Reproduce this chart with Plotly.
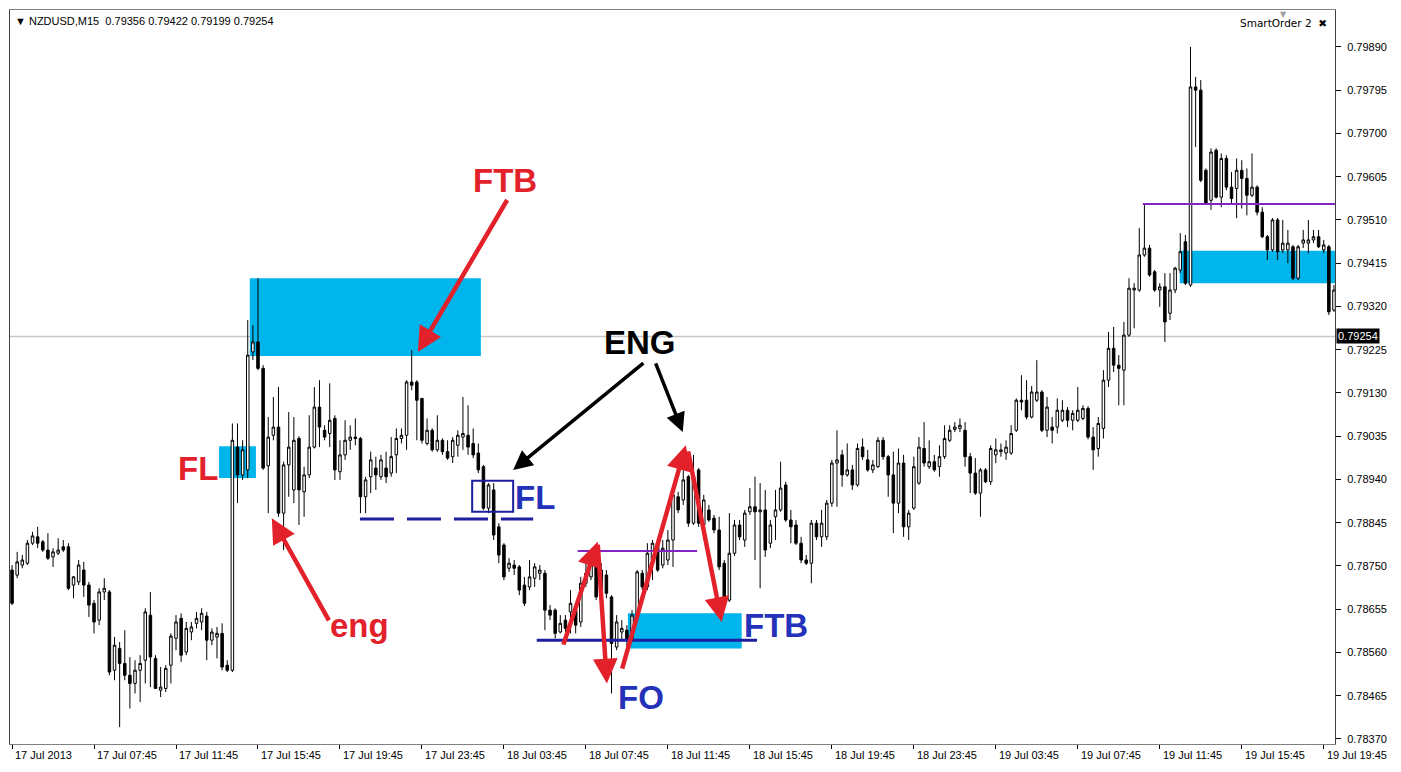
import plotly.graph_objects as go

# ---------------- data (NZDUSD M15) ----------------
bar_open = [
0.78741,0.78730,0.78752,0.78756,0.78800,0.78814,0.78803,0.78785,0.78770,0.78778,
0.78792,0.78792,0.78708,0.78715,0.78741,0.78708,0.78668,0.78631,0.78693,0.78693,
0.78521,0.78569,0.78536,0.78510,0.78492,0.78521,0.78543,0.78642,0.78547,0.78477,
0.78481,0.78532,0.78591,0.78635,0.78561,0.78605,0.78624,0.78627,0.78640,0.78587,
0.78594,0.78602,0.78532,0.78521,0.79011,0.78950,0.78961,0.79220,0.79242,0.79184,
0.78970,0.79037,0.79055,0.78866,0.78972,0.78917,0.79030,0.78913,0.78950,0.79011,
0.79099,0.79048,0.79041,0.79074,0.78957,0.78994,0.79026,0.79033,0.79030,0.78902,
0.78946,0.78965,0.78946,0.78965,0.78954,0.78994,0.79030,0.79037,0.79154,0.79154,
0.79118,0.79019,0.79048,0.79005,0.79026,0.79001,0.78990,0.79015,0.79033,0.79037,
0.79019,0.78998,0.78968,0.78877,0.78917,0.78836,0.78796,0.78745,0.78752,0.78748,
0.78708,0.78704,0.78723,0.78734,0.78734,0.78653,0.78653,0.78605,0.78631,0.78649,
0.78653,0.78627,0.78712,0.78726,0.78756,0.78697,0.78730,0.78682,0.78572,0.78605,
0.78609,0.78587,0.78642,0.78734,0.78704,0.78763,0.78800,0.78752,0.78763,0.78807,
0.78902,0.78895,0.78946,0.78844,0.78961,0.78840,0.78873,0.78855,0.78829,0.78756,
0.78675,0.78778,0.78840,0.78807,0.78869,0.78880,0.78869,0.78873,0.78800,0.78858,
0.78873,0.78928,0.78851,0.78840,0.78800,0.78763,0.78756,0.78844,0.78814,0.78814,
0.78888,0.78976,0.78994,0.78950,0.78961,0.78928,0.79011,0.78983,0.78961,0.78968,
0.79026,0.78990,0.78950,0.78888,0.78976,0.78836,0.78877,0.78932,0.79008,0.78968,
0.78979,0.78968,0.78990,0.79026,0.79050,0.79052,0.79048,0.78990,0.78954,0.78910,
0.78961,0.78935,0.78994,0.79001,0.78998,0.78998,0.79048,0.79114,0.79114,0.79077,
0.79114,0.79132,0.79048,0.79055,0.79055,0.79070,0.79092,0.79070,0.79070,0.79074,
0.79096,0.79033,0.79008,0.79052,0.79158,0.79228,0.79191,0.79180,0.79257,0.79356,
0.79356,0.79433,0.79448,0.79396,0.79356,0.79363,0.79305,0.79356,0.79400,0.79462,
0.79367,0.79802,0.79795,0.79619,0.79553,0.79663,0.79560,0.79645,0.79582,0.79579,
0.79619,0.79601,0.79564,0.79582,0.79527,0.79473,0.79444,0.79510,0.79444,0.79444,
0.79451,0.79382,0.79459,0.79459,0.79466,0.79473,0.79444,0.79451,0.79312]
bar_high = [
0.78752,0.78781,0.78774,0.78807,0.78825,0.78836,0.78807,0.78822,0.78789,0.78811,
0.78807,0.78800,0.78728,0.78763,0.78759,0.78715,0.78675,0.78701,0.78723,0.78697,
0.78594,0.78583,0.78609,0.78550,0.78543,0.78554,0.78657,0.78693,0.78554,0.78528,
0.78532,0.78602,0.78642,0.78646,0.78627,0.78627,0.78649,0.78657,0.78649,0.78613,
0.78616,0.78624,0.78543,0.79063,0.79063,0.79026,0.79290,0.79279,0.79382,0.79191,
0.79077,0.79121,0.79143,0.78979,0.79088,0.79077,0.79035,0.78968,0.79081,0.79143,
0.79158,0.79059,0.79151,0.79081,0.79026,0.79070,0.79059,0.79074,0.79033,0.78946,
0.79001,0.78990,0.78994,0.79001,0.79033,0.79052,0.79052,0.79158,0.79224,0.79158,
0.79118,0.79074,0.79052,0.79081,0.79030,0.79026,0.79033,0.79048,0.79121,0.79103,
0.79052,0.79019,0.78972,0.78932,0.78932,0.78844,0.78800,0.78767,0.78763,0.78752,
0.78726,0.78763,0.78756,0.78752,0.78741,0.78664,0.78657,0.78642,0.78642,0.78697,
0.78664,0.78726,0.78756,0.78774,0.78774,0.78756,0.78741,0.78686,0.78642,0.78631,
0.78620,0.78653,0.78741,0.78741,0.78800,0.78807,0.78811,0.78807,0.78829,0.78924,
0.78913,0.78961,0.78950,0.78994,0.78965,0.78906,0.78884,0.78862,0.78858,0.78763,
0.78866,0.78851,0.78851,0.78873,0.78921,0.78946,0.78932,0.78917,0.78851,0.78917,
0.78979,0.78935,0.78873,0.78851,0.78814,0.78774,0.78851,0.78851,0.78873,0.78895,
0.78983,0.79048,0.79005,0.79019,0.78972,0.79019,0.79030,0.79005,0.78983,0.79033,
0.79033,0.78994,0.79001,0.79008,0.78994,0.78873,0.78990,0.79033,0.79066,0.79026,
0.78994,0.79015,0.79059,0.79059,0.79066,0.79074,0.79066,0.78998,0.78987,0.78965,
0.78965,0.79015,0.79030,0.79019,0.79026,0.79059,0.79118,0.79169,0.79158,0.79145,
0.79202,0.79136,0.79121,0.79077,0.79118,0.79114,0.79099,0.79092,0.79143,0.79103,
0.79101,0.79055,0.79077,0.79180,0.79264,0.79275,0.79213,0.79286,0.79382,0.79371,
0.79492,0.79543,0.79455,0.79400,0.79371,0.79393,0.79393,0.79407,0.79481,0.79477,
0.79890,0.79824,0.79817,0.79623,0.79667,0.79667,0.79656,0.79652,0.79615,0.79645,
0.79641,0.79623,0.79656,0.79586,0.79538,0.79477,0.79514,0.79514,0.79510,0.79488,
0.79455,0.79455,0.79488,0.79510,0.79488,0.79488,0.79466,0.79455,0.79367]
bar_low = [
0.78664,0.78723,0.78745,0.78752,0.78796,0.78789,0.78781,0.78763,0.78748,0.78774,
0.78781,0.78697,0.78679,0.78708,0.78682,0.78638,0.78602,0.78620,0.78675,0.78510,
0.78499,0.78396,0.78499,0.78437,0.78470,0.78451,0.78492,0.78484,0.78481,0.78462,
0.78473,0.78492,0.78565,0.78539,0.78554,0.78587,0.78613,0.78609,0.78543,0.78576,
0.78547,0.78521,0.78517,0.78517,0.78888,0.78939,0.78943,0.79202,0.79180,0.78961,
0.78866,0.79026,0.78858,0.78785,0.78902,0.78888,0.78840,0.78858,0.78943,0.79008,
0.79011,0.79026,0.79011,0.78939,0.78939,0.78983,0.79005,0.79015,0.78866,0.78866,
0.78910,0.78917,0.78939,0.78932,0.78946,0.78954,0.79019,0.79005,0.79136,0.79026,
0.79019,0.79015,0.79001,0.79001,0.78994,0.78983,0.78976,0.78990,0.79005,0.78994,
0.78987,0.78954,0.78873,0.78866,0.78807,0.78756,0.78719,0.78737,0.78730,0.78686,
0.78662,0.78697,0.78704,0.78719,0.78609,0.78631,0.78591,0.78602,0.78605,0.78602,
0.78602,0.78616,0.78704,0.78719,0.78675,0.78690,0.78679,0.78470,0.78565,0.78587,
0.78565,0.78583,0.78638,0.78697,0.78697,0.78719,0.78737,0.78745,0.78752,0.78748,
0.78866,0.78884,0.78836,0.78840,0.78836,0.78807,0.78847,0.78822,0.78741,0.78668,
0.78671,0.78772,0.78807,0.78792,0.78862,0.78763,0.78701,0.78770,0.78789,0.78807,
0.78869,0.78847,0.78800,0.78796,0.78756,0.78752,0.78712,0.78807,0.78792,0.78807,
0.78880,0.78880,0.78924,0.78946,0.78917,0.78924,0.78983,0.78957,0.78954,0.78965,
0.78983,0.78902,0.78822,0.78866,0.78814,0.78807,0.78873,0.78928,0.78968,0.78963,
0.78957,0.78946,0.78985,0.79022,0.79044,0.79044,0.78968,0.78910,0.78906,0.78858,
0.78932,0.78928,0.78976,0.78990,0.78983,0.78994,0.79044,0.79092,0.79072,0.79074,
0.79110,0.79044,0.79033,0.79019,0.79041,0.79066,0.79055,0.79048,0.79066,0.79070,
0.79028,0.78961,0.78990,0.79030,0.79143,0.79176,0.79103,0.79103,0.79253,0.79272,
0.79352,0.79429,0.79385,0.79352,0.79319,0.79242,0.79290,0.79349,0.79393,0.79367,
0.79363,0.79670,0.79593,0.79543,0.79532,0.79557,0.79538,0.79575,0.79543,0.79514,
0.79535,0.79520,0.79560,0.79520,0.79470,0.79422,0.79440,0.79422,0.79437,0.79415,
0.79378,0.79378,0.79448,0.79437,0.79459,0.79448,0.79437,0.79301,0.79308]
bar_close = [
0.78668,0.78759,0.78763,0.78800,0.78816,0.78800,0.78785,0.78767,0.78781,0.78785,
0.78785,0.78701,0.78726,0.78752,0.78708,0.78664,0.78627,0.78693,0.78701,0.78517,
0.78576,0.78536,0.78510,0.78492,0.78521,0.78536,0.78649,0.78550,0.78481,0.78484,
0.78525,0.78596,0.78627,0.78554,0.78613,0.78616,0.78635,0.78646,0.78587,0.78605,
0.78602,0.78528,0.78521,0.79026,0.78950,0.79005,0.79213,0.79242,0.79184,0.78965,
0.79033,0.79055,0.78866,0.78972,0.79011,0.79026,0.78917,0.78950,0.79011,0.79099,
0.79055,0.79033,0.79070,0.78961,0.78994,0.79026,0.79033,0.79030,0.78902,0.78939,
0.78983,0.78950,0.78983,0.78946,0.78990,0.79030,0.79037,0.79154,0.79147,0.79114,
0.79026,0.79048,0.79005,0.79026,0.79001,0.78987,0.79026,0.79037,0.79041,0.79011,
0.78994,0.78961,0.78877,0.78928,0.78818,0.78774,0.78726,0.78756,0.78745,0.78697,
0.78668,0.78726,0.78748,0.78741,0.78653,0.78642,0.78602,0.78624,0.78613,0.78668,
0.78620,0.78712,0.78734,0.78756,0.78682,0.78741,0.78690,0.78580,0.78627,0.78613,
0.78587,0.78642,0.78737,0.78704,0.78778,0.78800,0.78741,0.78789,0.78807,0.78906,
0.78873,0.78939,0.78844,0.78946,0.78844,0.78895,0.78851,0.78829,0.78748,0.78682,
0.78778,0.78840,0.78814,0.78866,0.78880,0.78869,0.78873,0.78785,0.78840,0.78873,
0.78921,0.78851,0.78836,0.78800,0.78763,0.78756,0.78844,0.78814,0.78844,0.78888,
0.78976,0.78983,0.78950,0.78961,0.78928,0.79008,0.78990,0.78961,0.78972,0.79026,
0.78990,0.78950,0.78888,0.78976,0.78836,0.78866,0.78968,0.79011,0.78976,0.78979,
0.78961,0.78990,0.79030,0.79048,0.79055,0.79059,0.78990,0.78954,0.78910,0.78961,
0.78935,0.79008,0.79005,0.79005,0.79011,0.79041,0.79114,0.79110,0.79077,0.79132,
0.79132,0.79048,0.79099,0.79048,0.79092,0.79092,0.79070,0.79085,0.79092,0.79096,
0.79033,0.79005,0.79063,0.79158,0.79228,0.79191,0.79184,0.79257,0.79360,0.79360,
0.79433,0.79448,0.79389,0.79356,0.79363,0.79286,0.79356,0.79404,0.79440,0.79371,
0.79802,0.79795,0.79597,0.79546,0.79659,0.79560,0.79645,0.79582,0.79557,0.79619,
0.79601,0.79564,0.79582,0.79527,0.79473,0.79444,0.79510,0.79440,0.79459,0.79459,
0.79382,0.79451,0.79466,0.79466,0.79473,0.79451,0.79455,0.79308,0.79356]

time_labels = ["17 Jul 2013", "17 Jul 07:45", "17 Jul 11:45", "17 Jul 15:45",
               "17 Jul 19:45", "17 Jul 23:45", "18 Jul 03:45", "18 Jul 07:45",
               "18 Jul 11:45", "18 Jul 15:45", "18 Jul 19:45", "18 Jul 23:45",
               "19 Jul 03:45", "19 Jul 07:45", "19 Jul 11:45", "19 Jul 15:45",
               "19 Jul 19:45"]
price_ticks = [0.78370, 0.78465, 0.78560, 0.78655, 0.78750, 0.78845, 0.78940,
               0.79035, 0.79130, 0.79225, 0.79320, 0.79415, 0.79510, 0.79605,
               0.79700, 0.79795, 0.79890]
bid_price = 0.79254
title_text = "\u25BC NZDUSD,M15  0.79356 0.79422 0.79199 0.79254"

# ---------------- figure ----------------
n = len(bar_close)
xs = list(range(n))
bars_per_label = 16

CYAN = "#00B4EC"
RED = "#E3212B"
BLUE_TXT = "#2431B9"
NAVY = "#1E1EA0"
PURPLE = "#8424C4"
LABEL_FONT = "Liberation Sans"

fig = go.Figure()
fig.add_trace(go.Candlestick(
    x=xs, open=bar_open, high=bar_high, low=bar_low, close=bar_close,
    increasing=dict(line=dict(color="black", width=1), fillcolor="white"),
    decreasing=dict(line=dict(color="black", width=1), fillcolor="black"),
    whiskerwidth=0, showlegend=False, hoverinfo="skip"))

shapes = []
def rect(x0, x1, y0, y1, fill=None, line=None, lw=0, layer="below"):
    d = dict(type="rect", xref="x", yref="y", x0=x0, x1=x1, y0=y0, y1=y1,
             layer=layer, line=dict(width=lw, color=line or "rgba(0,0,0,0)"))
    if fill:
        d["fillcolor"] = fill
    shapes.append(d)

def hline(x0, x1, y, color, width, dash="solid"):
    shapes.append(dict(type="line", xref="x", yref="y", x0=x0, x1=x1, y0=y, y1=y,
                       line=dict(color=color, width=width, dash=dash), layer="above"))

# zones
rect(46.4, 91.5, 0.79211, 0.79382, fill=CYAN)
rect(40.4, 47.6, 0.78943, 0.79013, fill=CYAN)
rect(120.2, 142.4, 0.78569, 0.78646, fill=CYAN)
rect(227.9, 262, 0.79371, 0.79442, fill=CYAN)
# bid line
shapes.append(dict(type="line", xref="paper", yref="y", x0=0, x1=1, y0=bid_price, y1=bid_price,
                   line=dict(color="#C8C8C8", width=1.5), layer="below"))
# levels
hline(67.9, 101.7, 0.78853, NAVY, 3, dash="34px,13px")
hline(102.4, 145.4, 0.78587, NAVY, 3)
hline(110.4, 133.7, 0.78783, PURPLE, 2)
hline(220.7, 262, 0.79545, PURPLE, 2)
rect(89.8, 97.8, 0.78869, 0.78937, line=NAVY, lw=2, layer="above")

annotations = []
def arrow(x0, y0, x1, y1, color, width=4.5):
    annotations.append(dict(x=x1, y=y1, ax=x0, ay=y0, xref="x", yref="y",
                            axref="x", ayref="y", text="", showarrow=True,
                            arrowhead=2, arrowsize=1.1, arrowwidth=width,
                            arrowcolor=color, standoff=0))

def label(x, y, text, color, size=33):
    annotations.append(dict(x=x, y=y, xref="x", yref="y", text="<b>%s</b>" % text,
                            showarrow=False,
                            font=dict(family=LABEL_FONT, size=size, color=color)))

arrow(96.8, 0.79557, 79.2, 0.79220, RED)
arrow(62.0, 0.78627, 50.7, 0.78855, RED)
arrow(107.5, 0.78574, 114.3, 0.78803, RED)
arrow(114.3, 0.78800, 116.1, 0.78492, RED)
arrow(119.0, 0.78521, 131.5, 0.79015, RED)
arrow(131.9, 0.79005, 138.5, 0.78627, RED)
arrow(123.5, 0.79198, 97.8, 0.78961, "black", 3.5)
arrow(125.5, 0.79198, 130.9, 0.79044, "black", 3.5)

label(96.2, 0.79597, "FTB", RED)
label(36.2, 0.78965, "FL", RED)
label(67.9, 0.78620, "eng", RED)
label(122.5, 0.79240, "ENG", "black")
label(102.1, 0.78901, "FL", BLUE_TXT)
label(149.1, 0.78620, "FTB", BLUE_TXT)
label(122.7, 0.78462, "FO", BLUE_TXT)

# time labels under ticks
for k, t in enumerate(time_labels):
    annotations.append(dict(x=k * bars_per_label, y=0, xref="x", yref="paper",
                            xanchor="left", yanchor="top", yshift=-3, xshift=1,
                            text=t, showarrow=False,
                            font=dict(family="Liberation Sans", size=11, color="black")))
# header texts
annotations.append(dict(x=0, y=1, xref="paper", yref="paper", xanchor="left", yanchor="top",
                        xshift=3, yshift=-3, text=title_text, showarrow=False,
                        font=dict(family="Liberation Sans", size=11, color="black")))
annotations.append(dict(x=1, y=1, xref="paper", yref="paper", xanchor="right", yanchor="top",
                        xshift=-6, yshift=-5, text="SmartOrder 2  \u2716", showarrow=False,
                        font=dict(family="DejaVu Sans", size=10.5, color="black")))
annotations.append(dict(x=1, y=1, xref="paper", yref="paper", xanchor="center", yanchor="top",
                        xshift=-52, yshift=2, text="\u25BC", showarrow=False,
                        font=dict(family="DejaVu Sans", size=8, color="#A0A0A0")))
# bid price tag
annotations.append(dict(x=1, y=bid_price, xref="paper", yref="y", xanchor="left",
                        xshift=1, text=f"{bid_price:.5f}", showarrow=False,
                        bgcolor="black", borderpad=1,
                        font=dict(family="Liberation Sans", size=11, color="white")))

# the page body has an 8 px margin, so the figure is sized to fit inside it
fig.update_layout(
    width=1385, height=756,
    margin=dict(l=2, r=58, t=2, b=20),
    paper_bgcolor="white", plot_bgcolor="white",
    shapes=shapes, annotations=annotations,
    xaxis=dict(range=[-0.4, 258.2], rangeslider=dict(visible=False),
               tickvals=[k * bars_per_label for k in range(len(time_labels))],
               showticklabels=False, ticks="outside", ticklen=4, tickcolor="black",
               showgrid=False, zeroline=False, showline=True, linecolor="#808080",
               mirror=True, linewidth=1),
    yaxis=dict(side="right", range=[0.78359, 0.79971], tickvals=price_ticks,
               ticktext=[f"{p:.5f}" for p in price_ticks],
               ticks="outside", ticklen=5, tickcolor="black", ticklabelstandoff=4,
               tickfont=dict(family="Liberation Sans", size=11, color="black"),
               showgrid=False, zeroline=False, showline=True, linecolor="#404040",
               mirror=True, linewidth=1),
)

fig.write_html("out.html", config={"displayModeBar": False})
